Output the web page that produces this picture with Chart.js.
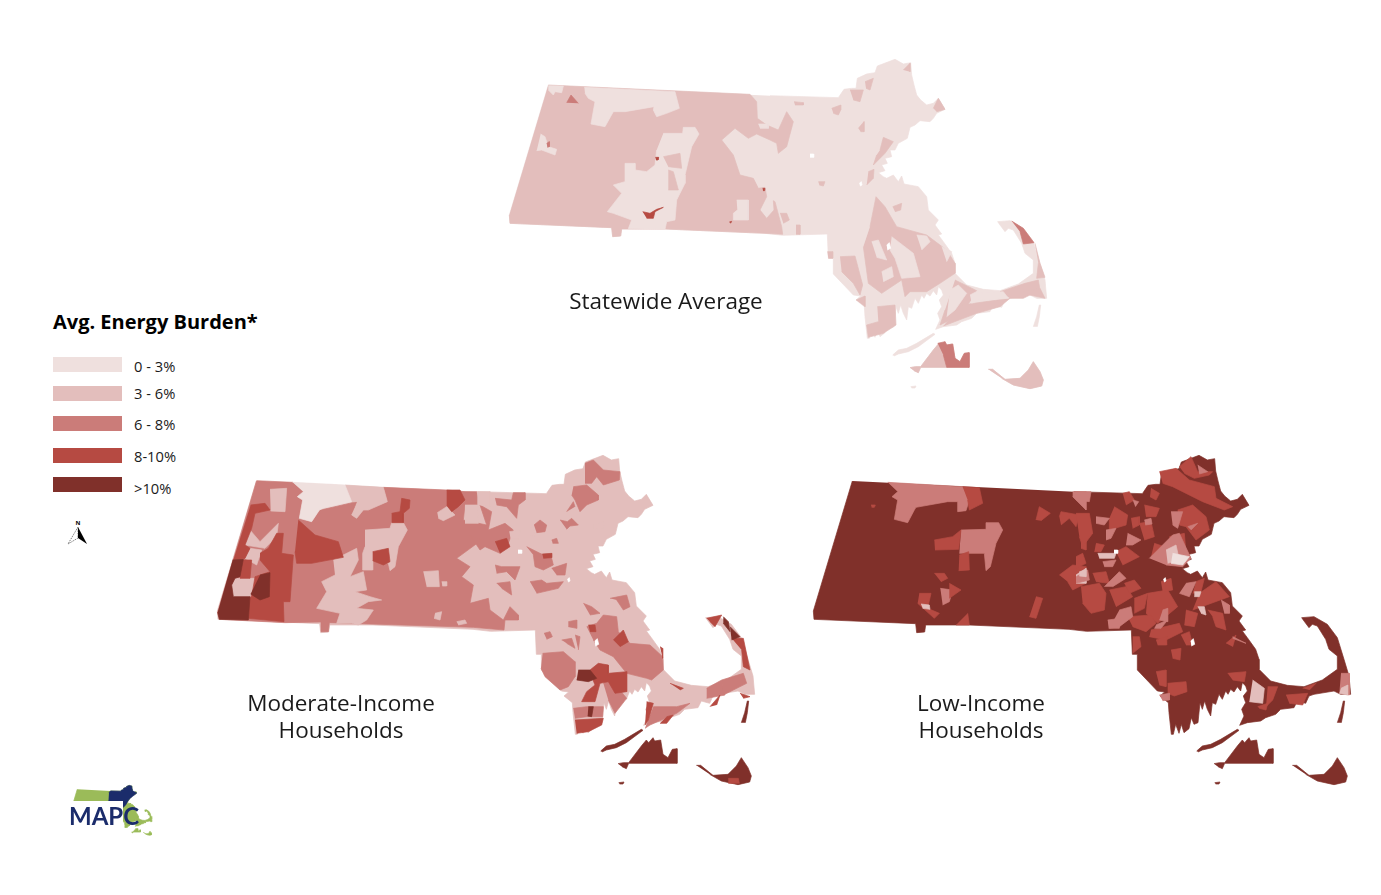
<!DOCTYPE html>
<html>
<head>
<meta charset="utf-8">
<title>Avg. Energy Burden</title>
<script src="https://cdn.jsdelivr.net/npm/chart.js@4"></script>
<style>
  html, body { margin: 0; padding: 0; background: #fff; width: 1381px; height: 895px; overflow: hidden; }
  body { font-family: "Open Sans", sans-serif; color: #1a1a1a; position: relative; }
  canvas { position: absolute; }
  .cap { position: absolute; width: 300px; text-align: center; font-size: 22.5px; line-height: 27px; }
  .legend-title { position: absolute; left: 53px; top: 308px; font-size: 20px; line-height: 28px; font-weight: 700; color: #000; }
  .swatch { position: absolute; left: 53px; width: 69px; }
  .swatch-label { position: absolute; left: 134px; font-size: 14.7px; line-height: 18px; }
  .logo-text { position: absolute; left: 69px; top: 804px; color: #1b2c6b; font-size: 24px; line-height: 24px; font-weight: 700; font-family: "Lato", sans-serif; }
  .logo-text span { background: #fff; }
</style>
</head>
<body>
<canvas id="avgMap" style="left:500px;top:50px"></canvas>
<canvas id="modMap" style="left:208px;top:446px"></canvas>
<canvas id="lowMap" style="left:804px;top:446px"></canvas>
<canvas id="logoMap" style="left:69.6px;top:783.6px"></canvas>

<div class="cap" style="left:516px;top:287px">Statewide Average</div>
<div class="cap" style="left:191px;top:689px">Moderate-Income<br>Households</div>
<div class="cap" style="left:831px;top:689px">Low-Income<br>Households</div>
<div class="legend-title">Avg. Energy Burden*</div>
<div id="legend"></div>
<svg style="position:absolute;left:60px;top:515px" width="36" height="34">
  <text x="18" y="10" font-size="6" font-weight="700" text-anchor="middle" font-family="Open Sans">N</text>
  <path d="M18 12 L8 29 L18 23 Z" fill="#fff" stroke="#222" stroke-width=".6" stroke-dasharray="1.5 1"/>
  <path d="M18 12 L27 29 L18 23 Z" fill="#000"/>
</svg>
<div class="logo-text"><span>MAP</span>C</div>

<script>
const classLabels = ['0 - 3%', '3 - 6%', '6 - 8%', '8-10%', '>10%'];
const classColors = ['#efe0de', '#e3bebc', '#cb7c79', '#b64a42', '#80302a'];

// "West" lists start at the grid origin of that map, "East" lists further right.
const mainlandEast = [0,137,205,143,222,118,245,115,258,115,262,85,290,72,315,68,322,48,375,28,400,42,422,38,425,75,432,105,440,135,452,150,470,165,490,160,505,145,525,178,500,190,490,205,480,215,450,212,435,225,420,232,412,265,385,280,375,300,360,300,365,320,345,325,352,340,335,345,345,362,325,368,340,380,350,385,370,375,385,395,395,378,402,402,445,410,470,440,475,480,505,510,495,525,515,552,505,555,520,575,545,610,555,640,555,670,590,705,640,718,690,722,745,702,790,670,790,630,765,610,755,580,730,540,715,535,705,545,690,525,683,515,720,512,760,535,790,575,810,640,825,690,830,745,800,745,780,735,720,745,705,750,695,772,670,765,660,785,620,790,605,805,575,815,560,825,520,830,497,838,510,810,503,790,515,770,508,750,520,735,515,720,525,705,515,720,505,710,500,735,490,722,480,738,470,730,462,745,455,735,445,760,435,745,425,775,415,770,410,810,400,790,392,765,385,790,378,770,372,830,360,835,352,815,345,848,330,860,322,835,315,862,305,835,298,865,292,865,285,800,283,770,258,750,272,738,250,735,190,672,190,625,175,625,172,552,38,556];
const mainlandWest = [795,550,495,537,365,537,362,558,338,560,335,533,30,520,28,495,145,105];
const vineyard = [420,953,436,950,452,950,490,900,505,882,512,890,525,875,530,885,548,882,555,925,570,935,583,910,597,908,597,952,452,952,445,968,432,962];
const nantucket = [655,958,668,958,705,988,750,985,775,960,790,935,810,965,820,990,815,1008,780,1016,730,1005,695,985];
const elizabethIslands = [368,915,385,900,410,895,440,880,490,850,495,853,445,890,415,905,385,912,372,918];
const monomoy = [790,830,800,800,808,765,812,765,808,800,802,830];
const nomansLand = [422,1010,438,1008,435,1014,425,1014];
const lakesEast = [[120,312,131,312,131,322,120,322],[350,585,358,578,362,595,352,600],[268,400,274,395,276,405,270,408]];

// Statewide average
const avgWestMid = [[145,105,750,133,770,155,772,205,800,225,835,240,860,185,880,215,860,290,835,310,830,280,810,270,770,252,745,265,705,235,665,270,700,315,720,375,760,385,775,415,795,412,800,440,780,480,800,505,822,480,820,452,825,455,845,530,848,553,795,550,495,537,365,537,362,558,338,560,335,533,30,520,28,495]];
const avgWestLight = [
  [145,107,190,108,185,128,165,125,160,135,145,120],
  [253,112,525,125,538,175,500,190,470,200,460,180,462,170,375,185,340,185,315,230,273,222,285,155,265,145,255,130],
  [122,252,135,260,145,290,170,298,165,315,125,300,110,302],
  [490,250,548,250,550,232,585,232,597,252,575,290,555,375,555,400,530,450,525,510,500,515,495,538,385,536,395,510,340,490,322,485,365,430,340,405,375,395,375,340,405,340,405,360,440,365,465,345,470,300],
  [710,450,745,450,745,510,700,510,700,490,712,480],
  [775,222,805,222,805,235,780,235]
];
const avgWestMidPatch = [[490,320,540,310,545,355,505,350],[505,360,520,365,535,420,505,420]];
const avgWestHigh = [[200,158,213,135,235,160],[140,280,148,275,148,290,142,292]];
const avgWestPeak = [[466,322,476,322,474,330,468,330],[428,485,450,490,470,478,490,472,465,485,460,505,440,505],[788,415,795,415,794,422,789,422],[688,516,695,514,692,520]];
const avgEastMid = [
  [72,155,100,158,100,165,75,165],[185,175,212,165,212,180,205,195,190,190],[265,235,282,215,282,245,272,245],
  [240,120,280,120,270,155,250,150],[285,95,310,85,300,120,288,115],[400,60,420,40,420,65],[490,175,505,145,525,178,500,185],
  [330,300,340,262,370,275,345,310,310,345,320,315],[295,365,312,358,310,385,290,405],[145,395,165,395,160,408,148,405],
  [78,525,90,525,90,553,78,553],[30,490,50,490,58,510,40,520],[368,470,395,460,392,480,375,485],
  [300,530,318,440,345,470,380,530,470,555,530,600,555,640,555,670,510,700,470,725,420,725,405,740,395,690,335,730,295,700,280,590],
  [210,620,255,618,278,705,270,735,250,700,215,665],[258,750,285,738,285,770],[172,605,188,605,188,625,175,625],
  [322,770,375,765,378,825,340,850,295,862,290,825,325,815],
  [555,690,620,722,590,770,530,815,510,825,525,780],[575,765,720,745,690,770,620,790,520,828],
  [690,725,765,700,805,690,810,720,760,745,720,745],[795,580,810,640,825,682,800,685,805,640],[760,725,810,715,825,745,780,735]
];
const avgEastLightOver = [
  [305,575,325,570,350,630,320,622],[365,560,430,610,450,680,395,685,375,625,360,600],[335,665,365,650,370,680,340,695],
  [440,555,470,558,480,575,455,600],[600,735,625,722,650,738,605,760],[540,720,565,705,590,730,555,780,530,800],
  [620,730,700,725,715,745,640,750],[515,590,545,605,530,635]
];
const avgEastHigh = [[725,513,760,535,792,578,760,582,750,545],[503,880,525,875,530,885,548,882,555,925,570,935,583,910,597,908,597,952,530,952,520,915]];

// Moderate-income households
const modWestHigh = [[140,92,248,97,280,125,262,140,278,150,268,205,305,215,330,180,375,170,440,155,425,195,440,205,460,180,532,155,520,112,710,120,765,125,800,125,800,165,765,165,760,210,830,225,810,165,845,185,835,240,885,220,910,240,895,280,870,310,825,290,810,300,780,255,815,270,740,325,780,350,755,380,790,405,780,460,835,445,840,480,880,510,900,470,925,495,925,510,885,510,882,540,790,532,358,518,355,545,333,545,333,516,225,518,28,508,23,487,140,92]];
const modWestMid = [
  [180,118,230,115,225,185,182,183],[405,105,520,112,532,155,475,180,460,180,440,205,425,195,445,155,425,155],
  [465,240,540,235,545,218,580,218,592,240,565,290,555,350,540,362,535,340,488,330,488,360,458,360,458,310,465,290],
  [370,330,440,295,445,330,420,380,460,365,470,420,435,425,480,440,515,450,475,455,440,475,490,480,470,510,445,525,425,520,380,520,390,490,320,475,350,425,335,395,375,375],
  [120,240,150,275,205,220,200,260,165,295,105,285],[120,295,155,300,140,345,105,325],[75,385,140,385,120,440,70,440,65,405],
  [682,188,710,170,735,195,700,212,685,205],[765,165,803,165,805,220,765,220],[640,365,685,362,688,410,650,410],
  [695,395,710,395,710,408,697,408],[675,490,695,485,690,510,672,505],[740,515,765,510,770,520,745,525],[800,125,840,125,840,170,810,165]
];
const modWestLight = [[248,97,405,105,425,155,340,175,328,180,305,215,268,205,278,150,262,140,280,125]];
const modWestTop = [
  [122,165,165,160,180,180,135,190,125,235,105,285,120,295,105,325,70,330],
  [265,210,315,255,385,275,400,322,305,340,260,340,255,305],
  [150,310,175,295,200,250,220,250,215,310,250,315,240,455,220,455,222,515,115,505,118,445,125,440,135,380,180,365,150,330],
  [92,330,125,330,120,385,90,385],[710,120,750,120,765,150,745,170,725,185,710,165],
  [545,190,570,185,575,145,600,150,598,175,580,190,580,218,545,218],[488,305,535,295,540,335,520,345,488,332]
];
const modWestPeak = [[68,330,100,328,90,380,75,385,65,405,70,440,120,440,115,510,28,508,23,487],[150,375,180,368,178,440,150,450,122,432]];
const modEastHigh = [
  [45,145,95,150,100,128,135,128,135,150,115,165,110,205,80,170,50,165],[315,40,340,30,370,60,420,65,418,90,370,105,350,80,335,100,315,100],
  [280,110,320,105,355,135,355,150,320,165,300,185,285,150,275,135],[260,185,280,155,285,170],[162,225,180,210,200,225,195,245,170,248],
  [240,210,262,215,275,205,295,225,270,228,260,238],[215,270,230,265,235,280,218,280],[140,290,180,310,215,325,220,345,190,360,165,350,160,315],
  [45,345,65,350,120,350,105,390,80,365,50,370],[50,400,90,395,95,435,65,415],[150,395,185,390,200,400,250,395,235,415,170,430],
  [215,355,260,340,255,375,230,375],[390,445,440,435,450,470,430,480,410,450],[310,460,335,470,360,490,330,495],[265,515,290,510,290,535,265,530],
  [192,550,210,545,217,560,200,568],[245,570,275,565,285,595,260,580],[285,555,300,560,295,600],
  [320,530,350,520,370,495,410,500,415,545,450,580,510,585,548,620,550,660,515,690,500,685,440,670,400,620,360,600,340,570],
  [188,610,250,605,285,635,285,680,265,710,240,720,195,680,183,655],[370,700,395,690,440,745,405,790,385,750],[280,775,320,770,370,770,368,800,320,800,285,805],
  [520,770,590,770,630,760,590,790,510,825,495,835],[680,715,725,690,735,735,680,745],[725,690,790,670,800,700,730,735]
];
const modEastMidOver = [[88,245,122,240,115,268,92,268],[340,225,370,215,372,235,340,238],[150,235,160,230,165,262,150,255]];
const modEastTop = [
  [45,275,80,265,90,290,60,310],[187,312,215,310,215,323,190,325],[325,525,345,525,348,545,330,545],[400,570,430,540,445,575,420,590],
  [330,660,355,640,385,645,385,670,440,665,440,725,405,730,385,695,360,700,345,755,305,755,320,725,345,705,335,680],
  [285,810,370,805,365,825,325,845,290,850],[500,755,520,760,505,810,495,825],[570,700,610,715,600,720],[540,590,548,595,548,625],
  [755,565,790,565,810,660,790,650,785,600],[780,730,810,740,790,745],[690,770,720,735,710,765],[560,800,580,795,560,820,540,820],
  [680,505,725,495,705,530,690,515]
];
const modEastPeak = [[295,660,330,660,350,685,325,695,290,690],[325,770,340,770,335,800,323,798],[750,530,780,560,755,570],[730,500,745,515,750,545,730,520]];
const modNantucketTop = [[745,985,775,985,778,1000,745,1000]];

// Low-income households
const lowWestHigh = [
  [245,97,470,110,490,150,480,182,455,185,455,155,425,155,330,172,325,180,305,218,265,208,275,150,258,140,275,125],
  [465,240,540,238,540,218,578,218,590,240,570,280,553,350,540,362,535,310,460,310],[403,415,440,420,430,455,410,465],[800,125,840,125,840,180,800,140]
];
const lowWestTop = [
  [470,110,520,113,530,160,490,180,485,150],[385,270,440,260,465,240,458,298,387,300],[460,315,488,305,490,360,458,362],
  [385,370,415,370,425,385,405,395],[340,430,375,430,365,475,400,490,385,505,335,460],[430,400,465,420,430,445],[485,490,490,525,450,525],
  [690,440,710,445,690,505,670,500],[690,210,700,170,733,190,705,212],[760,200,765,185,820,195,810,230,790,205,765,225],
  [825,230,840,228,840,300,825,295],[760,375,800,345,840,350,840,400,800,420,785,395],[195,165,208,165,205,172,197,172]
];
const lowWestMid = [[810,375,840,355,840,400,810,400],[345,462,370,465,372,478,350,475]];
const lowEastTop = [
  [310,50,345,20,365,65,410,65,400,75,355,85,325,70],[250,65,300,55,340,90,415,110,420,145,470,170,445,180,380,155,290,110,260,100],
  [115,170,155,195,150,225,100,240,100,205],[0,190,40,190,50,250,20,290,10,260],[205,165,250,175,240,200,210,200],
  [305,180,350,165,390,200,400,240,360,270,330,230,310,225],[190,220,225,215,235,260,205,270],[280,260,325,250,330,310,285,300],
  [50,370,90,365,100,400,60,395],[15,410,70,400,90,430,85,480,45,490,20,460],[100,420,150,410,170,440,120,470],
  [215,430,275,420,305,470,245,520,210,490],[155,500,225,495,240,520,210,545,170,530],[370,430,420,395,460,440,350,480],
  [395,480,440,490,450,540,420,530,410,500],[225,540,310,520,320,545,270,570,220,560],[240,570,270,560,272,585,245,585],
  [170,560,190,560,195,590,170,610],[285,600,315,595,312,630,290,625],[315,555,340,545,350,585,330,585],[455,670,510,665,505,695,470,690],
  [275,700,330,695,333,725,295,738,275,730],[240,665,270,660,270,710,250,705],[630,735,695,730,680,765,640,760],[680,715,720,700,700,720],
  [575,710,605,710,590,750,570,770],[545,770,575,760,570,780,550,775],[450,580,480,555,470,590],[140,130,160,125,175,150,150,165],
  [120,305,150,290,190,320,140,345],[0,320,20,310,30,340,0,355],
  [225,115,250,130,240,150,222,140],[165,205,190,200,190,225,170,235],[145,400,175,390,195,415,160,430],[255,395,285,385,290,420,260,425],
  [175,445,215,430,205,475,175,490],[330,480,365,490,355,530,325,525],[360,395,385,385,375,425,350,430],[60,280,85,285,75,305,55,305],
  [235,280,265,290,250,325,225,320]
];
const lowEastHigh = [
  [0,125,45,125,40,155,0,150],[60,200,100,205,85,225,60,220],[90,240,120,235,105,265,90,270],[155,250,195,270,170,285,150,285],
  [0,380,35,360,40,390,0,400],[85,410,130,365,150,385,110,410],[130,480,165,470,170,500,130,530,100,535],[260,480,275,475,275,515,250,510],
  [285,185,320,185,305,235,290,225],[335,230,365,220,345,240],[80,335,120,330,110,350,85,350],[330,400,360,395,340,440,310,430],
  [240,525,275,510,255,535,235,535],[95,510,135,505,130,535,98,535],[435,450,460,465,460,490,445,490],[250,735,280,730,280,750,260,752],
  [220,325,290,255,310,250,345,325,320,350,270,345],[795,670,820,670,820,735,790,730],[470,560,510,580,470,565],
  [365,45,395,65,370,72],[170,150,188,155,178,170],[205,210,225,205,228,222,208,225]
];
const lowEastMid = [[270,300,300,285,310,330,275,340],[65,310,120,310,115,325,70,325],[355,425,375,425,370,440,355,440],[365,470,385,470,390,495,375,490],[530,690,565,715,560,760,520,755],[795,715,815,705,815,735,790,730],[10,365,30,360,30,380,10,378]];
const lowEastLight = [[290,310,340,320,320,345,285,340]];

// Logo
const logoBlueEast = [[-30,170,0,137,205,143,222,118,258,115,262,85,315,68,322,48,375,28,422,38,440,135,525,178,480,215,412,265,370,305,340,350,300,420,210,500,100,420,20,420,-40,330]];

// grid offsets of the reference crops the lists were read from
const eastGridX = 810, modEastX = 816, modGridX = 6, modGridY = 12;

function toPoints(flat, dx, dy) {
  const pts = [];
  for (let i = 0; i < flat.length; i += 2) pts.push({ x: flat[i] + dx, y: flat[i + 1] + dy });
  return pts;
}

function shape(flat, cls, dx, dy) {
  const color = typeof cls === 'number' ? classColors[cls] : cls;
  return {
    data: toPoints(flat, dx, dy),
    showLine: true,
    pointRadius: 0,
    borderWidth: 0.7,
    borderColor: color,
    backgroundColor: color,
    fill: 'shape',
    tension: 0
  };
}

function layer(list, cls, dx, dy) {
  return list.map(flat => shape(flat, cls, dx, dy));
}

function baseLayers(mainCls, islandCls) {
  const mainland = toPoints(mainlandEast, eastGridX, 0).concat(toPoints(mainlandWest, 0, 0));
  const flat = [];
  mainland.forEach(p => flat.push(p.x, p.y));
  return [shape(flat, mainCls, 0, 0)].concat(
    [vineyard, nantucket, elizabethIslands, monomoy, nomansLand].map(s => shape(s, islandCls, eastGridX, 0))
  );
}

function lakes() {
  return layer(lakesEast, '#ffffff', eastGridX, 0);
}

function drawMap(id, layers, w, h) {
  const canvas = document.getElementById(id);
  canvas.width = w;
  canvas.height = h;
  canvas.style.width = w + 'px';
  canvas.style.height = h + 'px';
  new Chart(canvas, {
    type: 'scatter',
    // Chart.js paints dataset 0 last, so the painting order is flipped here
    data: { datasets: layers.slice().reverse() },
    options: {
      responsive: false,
      animation: false,
      layout: { padding: 0 },
      plugins: { legend: { display: false }, tooltip: { enabled: false } },
      events: [],
      scales: {
        x: { type: 'linear', display: false, min: 0, max: 1680 },
        y: { type: 'linear', display: false, min: 0, max: 1050, reverse: true }
      }
    }
  });
}

drawMap('avgMap', [].concat(
  baseLayers(0, 0),
  layer(avgWestMid, 1, 0, 0),
  layer(avgWestLight, 0, 0, 0),
  layer(avgWestMidPatch, 1, 0, 0),
  layer(avgWestHigh, 2, 0, 0),
  layer(avgWestPeak, 3, 0, 0),
  layer(avgEastMid, 1, eastGridX, 0),
  layer([vineyard, nantucket], 1, eastGridX, 0),
  layer(avgEastLightOver, 0, eastGridX, 0),
  layer(avgEastHigh, 2, eastGridX, 0),
  lakes()
), 560, 350);

drawMap('modMap', [].concat(
  baseLayers(1, 4),
  layer(modWestHigh, 2, modGridX, modGridY),
  layer(modWestMid, 1, modGridX, modGridY),
  layer(modWestLight, 0, modGridX, modGridY),
  layer(modWestTop, 3, modGridX, modGridY),
  layer(modWestPeak, 4, modGridX, modGridY),
  layer(modEastHigh, 2, modEastX, modGridY),
  layer(modEastMidOver, 1, modEastX, modGridY),
  layer(modEastTop, 3, modEastX, modGridY),
  layer(modEastPeak, 4, modEastX, modGridY),
  layer(modNantucketTop, 3, modEastX, modGridY),
  lakes()
), 560, 350);

drawMap('lowMap', [].concat(
  baseLayers(4, 4),
  layer(lowWestHigh, 2, modGridX, modGridY),
  layer(lowWestTop, 3, modGridX, modGridY),
  layer(lowWestMid, 1, modGridX, modGridY),
  layer(lowEastTop, 3, modEastX, modGridY),
  layer(lowEastHigh, 2, modEastX, modGridY),
  layer(lowEastMid, 1, modEastX, modGridY),
  layer(lowEastLight, 0, modEastX, modGridY),
  lakes()
), 560, 350);

// logo reuses the state outline at a small scale
drawMap('logoMap', [].concat(
  baseLayers('#9bbb59', '#9bbb59').slice(0, 3),
  layer(logoBlueEast, '#1b2c6b', eastGridX, 0)
), 84, 53);

// legend
const swatchTops = [357, 386, 416, 448, 477];
const swatchLabelTops = [357, 384, 415, 447, 479];
const legendBox = document.getElementById('legend');
classLabels.forEach((label, i) => {
  const sw = document.createElement('div');
  sw.className = 'swatch';
  sw.style.top = swatchTops[i] + 'px';
  sw.style.height = '15px';
  sw.style.background = classColors[i];
  legendBox.appendChild(sw);
  const tx = document.createElement('div');
  tx.className = 'swatch-label';
  tx.style.top = swatchLabelTops[i] + 'px';
  tx.textContent = label;
  legendBox.appendChild(tx);
});
</script>
</body>
</html>
